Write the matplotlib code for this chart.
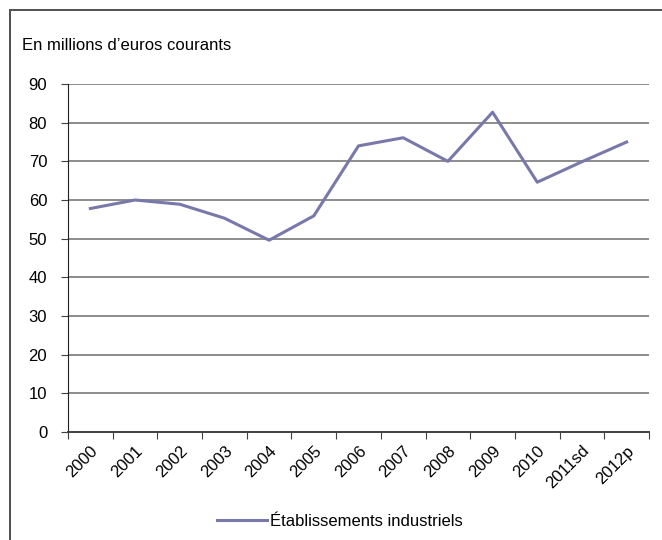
import matplotlib.pyplot as plt
import numpy as np
from matplotlib.lines import Line2D

# Données
annees = ['2000', '2001', '2002', '2003', '2004', '2005', '2006', '2007',
          '2008', '2009', '2010', '2011sd', '2012p']
valeurs = [57.8, 60.0, 58.9, 55.3, 49.6, 55.9, 74.0, 76.1, 70.0, 82.7, 64.6, 69.9, 75.0]
yticks = [0, 10, 20, 30, 40, 50, 60, 70, 80, 90]

plt.rcParams['font.family'] = ['Liberation Sans', 'DejaVu Sans']

fig = plt.figure(figsize=(6.62, 5.4), dpi=100)
ax = fig.add_axes([68/662, 1-432/540, (649-68)/662, (432-84)/540])

x = np.arange(len(annees))
ax.plot(x, valeurs, color='#7878aa', lw=2.2, label='Établissements industriels', zorder=3)

ax.set_xlim(-0.5, len(annees) - 0.5)
ax.set_ylim(0, 90)
ax.set_yticks(yticks)
ax.set_yticklabels([str(v) for v in yticks], fontsize=12)
for v in yticks[1:]:
    ax.axhline(v, color='#8c8c8c', lw=1.4, zorder=1)

# ticks x entre catégories
ax.set_xticks(np.arange(-0.5, len(annees), 1.0))
ax.set_xticklabels([])
ax.set_xticks(x, minor=True)
ax.set_xticklabels(annees, minor=True, rotation=45, ha='right', rotation_mode='anchor', fontsize=12)
ax.tick_params(axis='x', which='minor', length=0, pad=8)
ax.tick_params(axis='x', which='major', length=5, color='#404040', direction='out')
ax.tick_params(axis='y', length=5, color='#404040', direction='out', pad=10)

for s in ['top', 'right']:
    ax.spines[s].set_visible(False)
ax.spines['left'].set_color('#202020')
ax.spines['bottom'].set_color('#404040')
ax.spines['bottom'].set_linewidth(1.4)

fig.text(22/662, 1-45/540, 'En millions d\u2019euros courants', fontsize=12, va='center', ha='left')

fig.legend(loc='center', bbox_to_anchor=(340/662, 1-521/540), frameon=False,
           fontsize=12, handlelength=3.0, handletextpad=0.2)

# cadre
fig.add_artist(Line2D([10/662, 10/662], [0, 1-10/540], transform=fig.transFigure, color='#303030', lw=1.2))
fig.add_artist(Line2D([10/662, 1], [1-10/540, 1-10/540], transform=fig.transFigure, color='#505050', lw=1.4))

fig.savefig('out.png', dpi=100)
